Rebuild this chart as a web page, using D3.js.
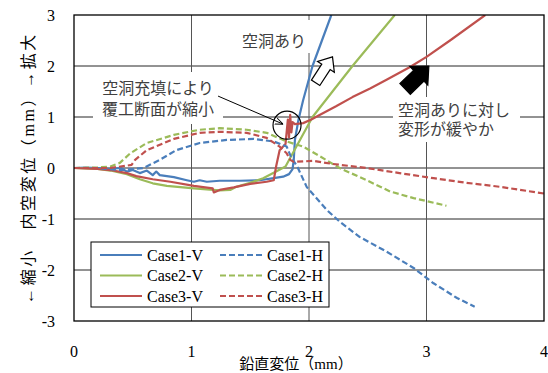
<!DOCTYPE html>
<html><head><meta charset="utf-8">
<script src="https://cdn.jsdelivr.net/npm/d3@7"></script>
<style>
html,body{margin:0;padding:0;background:#fff;}
svg{display:block;}
</style></head>
<body>
<svg id="chart" width="548" height="373"></svg>
<script>
// ---- data ----
const xTicks = [0, 1, 2, 3, 4];
const yTicks = [-3, -2, -1, 0, 1, 2, 3];
const xTitle = "鉛直変位（mm）";
const yTitle = "←縮小　内空変位（mm）→拡大";
const seriesNames = ["Case1-V", "Case2-V", "Case3-V", "Case1-H", "Case2-H", "Case3-H"];
const seriesColors = ["#4a7ebb", "#9bbb59", "#c0504d", "#4a7ebb", "#9bbb59", "#c0504d"];

const case1V = [[0,0],[0.1,0.01],[0.2,0],[0.3,-0.02],[0.4,0],[0.45,-0.07],[0.5,-0.04],[0.56,-0.10],[0.62,-0.05],[0.67,-0.14],[0.70,-0.07],[0.73,-0.14],[0.85,-0.18],[0.96,-0.24],[1.02,-0.27],[1.07,-0.24],[1.13,-0.27],[1.24,-0.25],[1.41,-0.25],[1.58,-0.24],[1.70,-0.20],[1.78,-0.17],[1.83,-0.12],[1.86,-0.02],[1.87,0.15],[1.88,0.55],[1.91,0.94],[1.95,1.33],[2.03,2.0],[2.11,2.5],[2.19,3.0]];
const case2V = [[0,0],[0.2,-0.02],[0.31,-0.05],[0.45,-0.12],[0.56,-0.22],[0.67,-0.30],[0.79,-0.35],[1.02,-0.40],[1.13,-0.42],[1.24,-0.44],[1.33,-0.43],[1.38,-0.37],[1.50,-0.29],[1.61,-0.20],[1.72,-0.07],[1.80,0.03],[1.90,0.45],[2.03,1.0],[2.20,1.5],[2.37,2.0],[2.55,2.5],[2.73,3.0]];
const case3V = [[0,0],[0.2,-0.02],[0.31,-0.04],[0.45,-0.10],[0.53,-0.16],[0.67,-0.22],[0.82,-0.27],[1.02,-0.35],[1.18,-0.40],[1.19,-0.48],[1.24,-0.43],[1.36,-0.38],[1.50,-0.31],[1.64,-0.27],[1.70,-0.24],[1.72,0.03],[1.75,0.35],[1.80,0.47],[1.82,0.95],[1.83,0.60],[1.84,1.04],[1.85,0.70],[1.86,0.90],[1.88,0.86],[1.95,0.88],[2.02,0.95],[2.09,1.04],[2.23,1.21],[2.37,1.39],[2.52,1.56],[2.66,1.73],[2.86,1.98],[3.0,2.18],[3.2,2.5],[3.5,3.0]];
const case1H = [[0,0],[0.2,0],[0.39,-0.04],[0.5,-0.02],[0.59,0],[0.73,0.16],[0.87,0.35],[1.07,0.49],[1.30,0.55],[1.53,0.57],[1.70,0.52],[1.81,0.42],[1.85,0.20],[1.90,0.03],[1.98,-0.37],[2.15,-0.82],[2.26,-1.05],[2.43,-1.35],[2.66,-1.64],[2.89,-1.96],[3.06,-2.26],[3.26,-2.55],[3.41,-2.72]];
const case2H = [[0,0],[0.2,0.01],[0.31,0.03],[0.39,0.10],[0.48,0.29],[0.62,0.49],[0.85,0.65],[1.07,0.75],[1.24,0.78],[1.47,0.75],[1.64,0.69],[1.81,0.52],[1.95,0.42],[2.10,0.22],[2.26,0],[2.49,-0.24],[2.69,-0.46],[2.89,-0.59],[3.17,-0.74]];
const case3H = [[0,0],[0.2,0],[0.31,0],[0.49,0.06],[0.52,0.16],[0.62,0.35],[0.85,0.57],[1.07,0.69],[1.24,0.71],[1.47,0.69],[1.64,0.59],[1.75,0.42],[1.81,0.29],[1.84,0.16],[1.87,0.12],[2.04,0.14],[2.20,0.08],[2.49,0],[2.77,-0.10],[3.06,-0.20],[3.34,-0.29],[3.63,-0.37],[4.0,-0.50]];

const seriesData = [case1V, case2V, case3V, case1H, case2H, case3H];

// ---- layout ----
const svg = d3.select("#chart");
const L = 74, R = 544, T = 15, B = 321;
const x = d3.scaleLinear().domain([0, 4]).range([L, R]);
const y = d3.scaleLinear().domain([-3, 3]).range([B, T]);
const serif = "'Liberation Serif','Noto Sans CJK JP',serif";
const cjk = "'Noto Sans CJK JP','Liberation Sans',sans-serif";

svg.append("defs").append("clipPath").attr("id", "plotclip")
  .append("rect").attr("x", L).attr("y", T).attr("width", R - L).attr("height", B - T);

// gridlines
svg.append("g").selectAll("line").data(yTicks.filter(d => d > -3 && d < 3)).join("line")
  .attr("x1", L).attr("x2", R).attr("y1", d => y(d)).attr("y2", d => y(d))
  .attr("stroke", "#262626").attr("stroke-width", 1);
svg.append("g").selectAll("line").data(xTicks.filter(d => d > 0 && d < 4)).join("line")
  .attr("y1", T).attr("y2", B).attr("x1", d => x(d)).attr("x2", d => x(d))
  .attr("stroke", "#555").attr("stroke-width", 1);

// annotation text boxes (white background over gridlines)
function textBox(x0, y0, x1, y1) {
  svg.append("rect").attr("x", x0).attr("y", y0).attr("width", x1 - x0).attr("height", y1 - y0).attr("fill", "#fff");
}
textBox(236, 20, 312, 53);
textBox(393, 97, 520, 142);
textBox(93, 72, 223, 124);

const annFill = "#404040";
function annText(tx, ty, s, anchor) {
  svg.append("text").attr("x", tx).attr("y", ty).attr("text-anchor", anchor || "start")
    .attr("font-family", cjk).attr("font-size", 16).attr("fill", annFill).text(s);
}
annText(274, 47, "空洞あり", "middle");
annText(398, 116, "空洞ありに対し");
annText(398, 135, "変形が緩やか");
annText(158, 94, "空洞充填により", "middle");
annText(158, 115, "覆工断面が縮小", "middle");

// data lines
const line = d3.line().x(d => x(d[0])).y(d => y(d[1]));
const gLines = svg.append("g").attr("clip-path", "url(#plotclip)");
seriesData.forEach((data, i) => {
  gLines.append("path").datum(data).attr("d", line)
    .attr("fill", "none").attr("stroke", seriesColors[i]).attr("stroke-width", 2.2)
    .attr("stroke-linejoin", "round")
    .attr("stroke-dasharray", i >= 3 ? "6,3" : null);
});

// frame
svg.append("rect").attr("x", L).attr("y", T).attr("width", R - L).attr("height", B - T)
  .attr("fill", "none").attr("stroke", "#000").attr("stroke-width", 1.3);

// tick labels
svg.append("g").selectAll("text").data(xTicks).join("text")
  .attr("x", d => x(d)).attr("y", 357).attr("text-anchor", "middle")
  .attr("font-family", serif).attr("font-size", 16).attr("fill", "#000").text(d => d);
svg.append("g").selectAll("text").data(yTicks).join("text")
  .attr("x", 55).attr("y", d => y(d) + 5.5).attr("text-anchor", "end")
  .attr("font-family", serif).attr("font-size", 16).attr("fill", "#000").text(d => d);

// axis titles
svg.append("text").attr("x", 296).attr("y", 369).attr("text-anchor", "middle")
  .attr("font-family", serif).attr("font-size", 15).attr("fill", "#000").text(xTitle);
svg.append("text").attr("transform", "translate(34,168) rotate(-90)").attr("text-anchor", "middle")
  .attr("font-family", serif).attr("font-size", 16).attr("letter-spacing", 2.6).attr("fill", "#000").text(yTitle);

// circle and pointer
const cx = x(1.813), cy = y(0.84);
svg.append("circle").attr("cx", cx).attr("cy", cy).attr("r", 14)
  .attr("fill", "none").attr("stroke", "#000").attr("stroke-width", 1.2);
svg.append("defs").append("marker").attr("id", "ah").attr("viewBox", "0 0 10 10")
  .attr("refX", 10).attr("refY", 5).attr("markerWidth", 8).attr("markerHeight", 8)
  .attr("orient", "auto").attr("markerUnits", "userSpaceOnUse")
  .append("path").attr("d", "M0,1 L10,5 L0,9").attr("fill", "none").attr("stroke", "#000").attr("stroke-width", 1.2);
svg.append("line").attr("x1", x(1.226)).attr("y1", y(1.41)).attr("x2", x(1.78)).attr("y2", y(0.86))
  .attr("stroke", "#000").attr("stroke-width", 1).attr("marker-end", "url(#ah)");

// block arrows
function blockArrow(tipX, tipY, angle, Lh, h, W, w, fill) {
  const pts = [[0,0],[-h,-W],[-h,-w],[-Lh,-w],[-Lh,w],[-h,w],[-h,W]];
  svg.append("path").attr("d", "M" + pts.map(p => p.join(",")).join("L") + "Z")
    .attr("transform", `translate(${tipX},${tipY}) rotate(${angle})`)
    .attr("fill", fill).attr("stroke", "#000").attr("stroke-width", 1.2);
}
blockArrow(x(2.20), y(2.18), -57, 31, 12, 10, 5, "#fff");
blockArrow(x(3.02), y(2.0), -44, 33, 14, 13, 7.5, "#000");

// legend
const lg = svg.append("g");
lg.append("rect").attr("x", 91).attr("y", 242).attr("width", 238).attr("height", 65)
  .attr("fill", "#fff").attr("stroke", "#000").attr("stroke-width", 1);
const rowY = [255, 275.5, 296];
seriesNames.forEach((name, i) => {
  const col = i >= 3 ? 1 : 0, row = i % 3;
  const x0 = col ? 220 : 100;
  lg.append("line").attr("x1", x0).attr("x2", x0 + 42).attr("y1", rowY[row]).attr("y2", rowY[row])
    .attr("stroke", seriesColors[i]).attr("stroke-width", 2.2)
    .attr("stroke-dasharray", col ? "6,3" : null);
  lg.append("text").attr("x", x0 + 47).attr("y", rowY[row] + 5.5)
    .attr("font-family", serif).attr("font-size", 16).attr("fill", "#000").text(name);
});
</script>
</body></html>
